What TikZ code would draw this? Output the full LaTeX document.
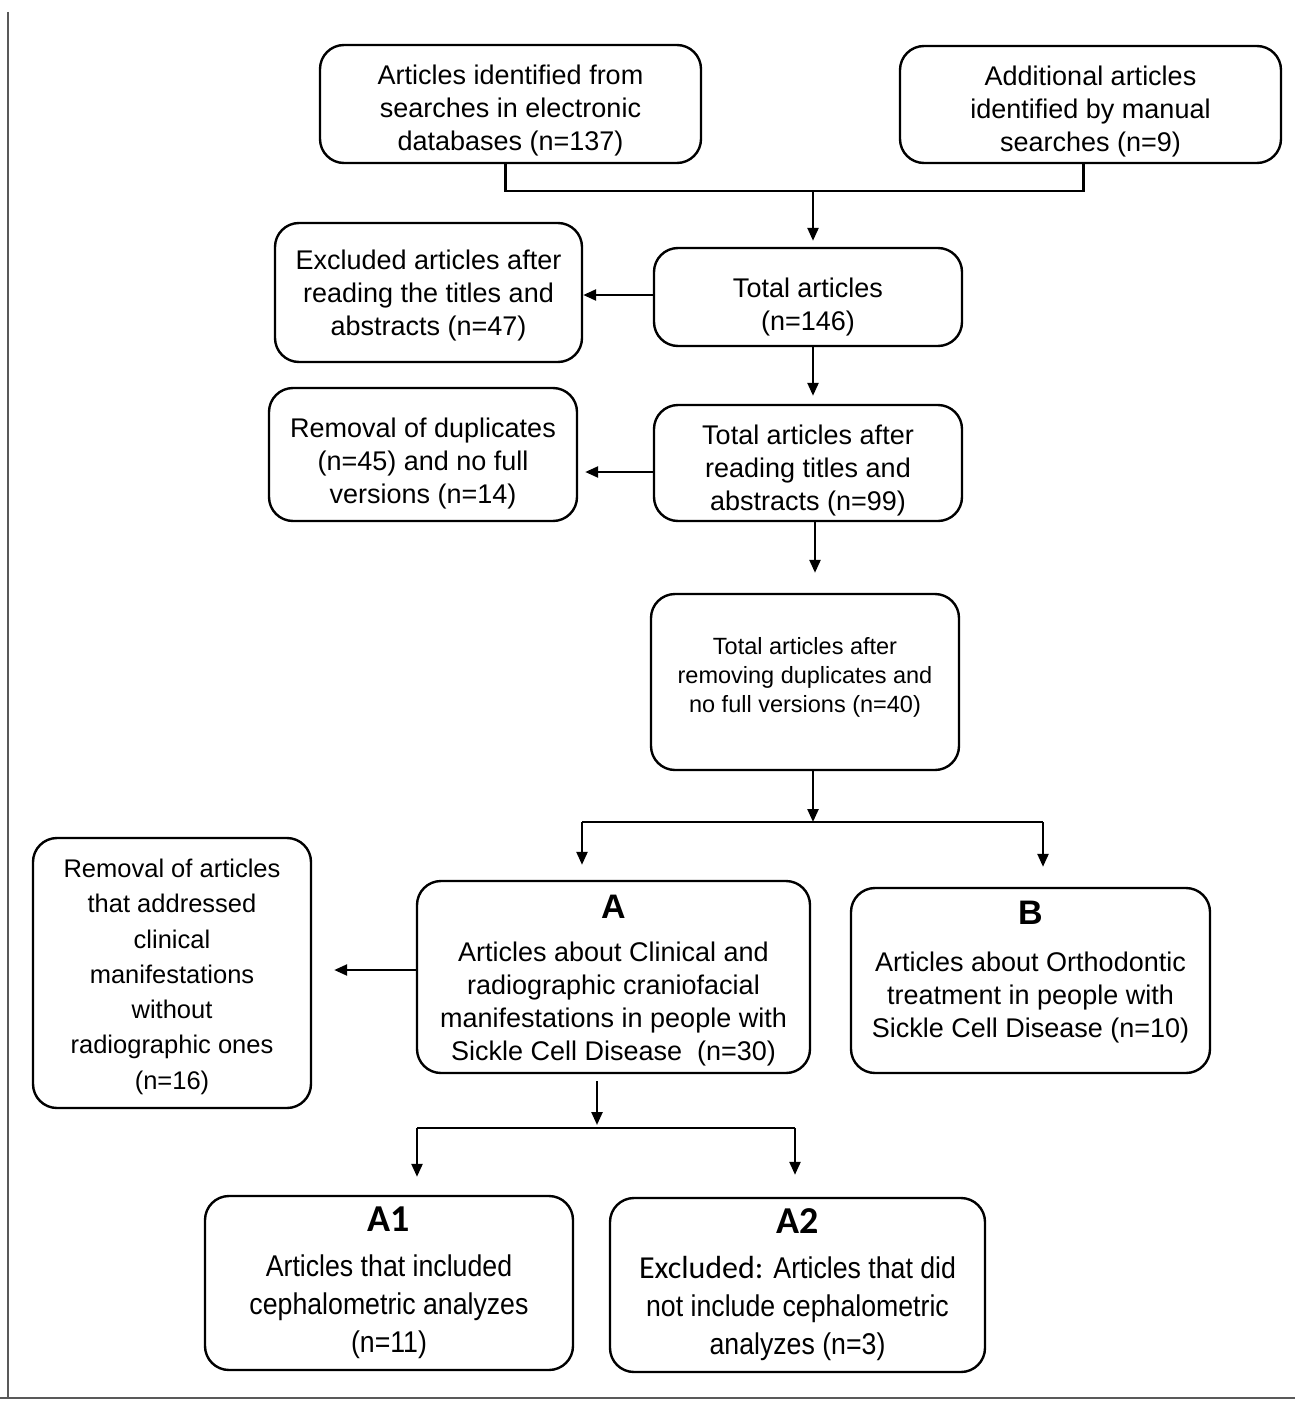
\documentclass[tikz,border=0pt]{standalone}
\usepackage{fontspec}
\setmainfont{Liberation Sans}
\newfontfamily\hdfont{Carlito}
\newfontfamily\narrowfont[FakeStretch=0.89]{Liberation Sans}
\usetikzlibrary{arrows.meta}
\newcommand\topgap[1]{\rule{0pt}{#1}}
\newcommand\botgap[1]{\rule[-#1]{0pt}{0pt}}

\begin{document}
\begin{tikzpicture}[x=1pt,y=-1pt,
  box/.style={draw,rounded corners=24pt,line width=2.4pt,align=center,inner sep=0,font=\fontsize{27}{33}\selectfont},
  smallbox/.style={box,font=\fontsize{23.5}{29}\selectfont},
  narrowbox/.style={box,font=\narrowfont\fontsize{30}{38}\selectfont},
  link/.style={line width=2.4pt},
  arr/.style={link,-{Triangle[length=13pt,width=11pt]}}]
  \useasboundingbox (0,0) rectangle (1295,1402);
  \draw[line width=2pt,black!65] (8,12) -- (8,1398) (0,1398) -- (1295,1398);

  % identification
  \node[box,minimum width=381pt,minimum height=118pt] (src1) at (510.5,104) {\topgap{32pt}Articles identified from\\searches in electronic\\databases (n=137)};
  \node[box,minimum width=381pt,minimum height=117pt] (src2) at (1090.5,104.5) {\topgap{34pt}Additional articles\\identified by manual\\searches (n=9)};
  \node[box,minimum width=308pt,minimum height=98pt] (total) at (808,297) {\topgap{39pt}Total articles\\(n=146)};
  \node[box,minimum width=307pt,minimum height=139pt] (excl) at (428.5,292.5) {\topgap{26pt}Excluded articles after\\reading the titles and\\abstracts (n=47)};
  \node[box,minimum width=308pt,minimum height=116pt] (after) at (808,463) {\topgap{34pt}Total articles after\\reading titles and\\abstracts (n=99)};
  \node[box,minimum width=308pt,minimum height=133pt] (dup) at (423,454.5) {\topgap{37pt}Removal of duplicates\\(n=45) and no full\\versions (n=14)};
  \node[smallbox,minimum width=308pt,minimum height=176pt] (kept) at (805,682) {Total articles after\\removing duplicates and\\no full versions (n=40)\botgap{15pt}};

  % groups
  \node[box,minimum width=393pt,minimum height=192pt] (grpA) at (613.5,977) {\topgap{30pt}{\fontsize{34}{34}\selectfont\bfseries A}\\[10pt]Articles about Clinical and\\radiographic craniofacial\\manifestations in people with\\Sickle Cell Disease~~(n=30)};
  \node[box,minimum width=359pt,minimum height=185pt] (grpB) at (1030.5,980.5) {{\fontsize{34}{34}\selectfont\bfseries B}\\[14pt]Articles about Orthodontic\\treatment in people with\\Sickle Cell Disease (n=10)\botgap{22pt}};
  \node[box,font=\fontsize{25.5}{35.3}\selectfont,minimum width=278pt,minimum height=270pt] (rem) at (172,973) {\topgap{26pt}Removal of articles\\that addressed\\clinical\\manifestations\\without\\radiographic ones\\(n=16)};
  \node[narrowbox,minimum width=368pt,minimum height=174pt] (grpA1) at (389,1283) {{\hdfont\bfseries\fontsize{38}{38}\selectfont A1}\\[7pt]Articles that included\\cephalometric analyzes\\(n=11)};
  \node[narrowbox,minimum width=375pt,minimum height=174pt] (grpA2) at (797.5,1285) {{\hdfont\bfseries\fontsize{38}{38}\selectfont A2}\\[7pt]{\hdfont\fontsize{32}{38}\selectfont Excluded:} Articles that did\\not include cephalometric\\analyzes (n=3)};

  \coordinate (merge) at (813,191);
  \coordinate (split1) at (813,822);
  \coordinate (sA) at (582,822);
  \coordinate (sB) at (1043,822);
  \coordinate (split2) at (597,1128);
  \coordinate (sA1) at (417,1128);
  \coordinate (sA2) at (795,1128);

  \draw[link] ([xshift=-5pt]src1.south) |- (merge) -| ([xshift=-7pt]src2.south);
  \draw[arr,shorten >=6pt] (merge) -- (merge |- total.north);
  \draw[arr] ([yshift=2pt]total.west) -- ([yshift=2pt]excl.east |- total.west);
  \draw[arr,shorten >=8pt] (total.south -| merge) -- (after.north -| merge);
  \draw[arr,shorten >=7pt] ([yshift=-9pt]after.west) -- ([yshift=-9pt]dup.east |- after.west);
  \draw[arr,shorten >=20pt] ([xshift=7pt]after.south) -- ([xshift=7pt]after.south |- kept.north);
  \draw[arr] (kept.south -| split1) -- (split1);
  \draw[link] (sA) -- (sB);
  \draw[arr,shorten >=15pt] (sA) -- (sA |- grpA.north);
  \draw[arr,shorten >=20pt] (sB) -- (sB |- grpB.north);
  \draw[arr,shorten >=22pt] ([yshift=7pt]grpA.west) -- ([yshift=7pt]rem.east |- grpA.west);
  \draw[arr,shorten >=3pt] ([yshift=-7pt]grpA.south -| split2) -- (split2);
  \draw[link] (sA1) -- (sA2);
  \draw[arr,shorten >=18pt] (sA1) -- (sA1 |- grpA1.north);
  \draw[arr,shorten >=22pt] (sA2) -- (sA2 |- grpA2.north);
\end{tikzpicture}
\end{document}
